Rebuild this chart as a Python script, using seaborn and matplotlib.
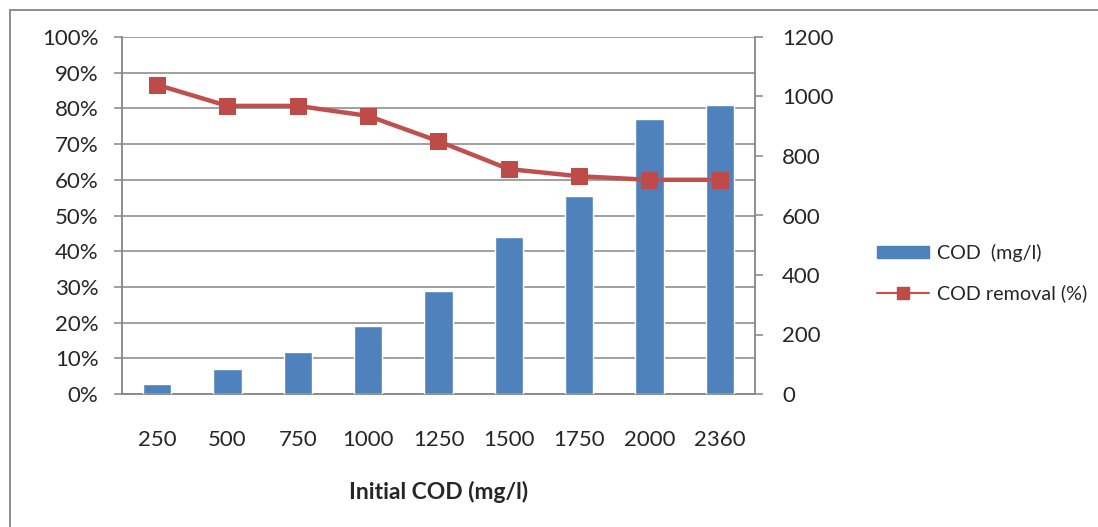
import matplotlib
matplotlib.use("Agg")
import matplotlib.pyplot as plt
import matplotlib.patches as mpatches
from matplotlib.lines import Line2D
from matplotlib.ticker import PercentFormatter, MultipleLocator
import numpy as np
import pandas as pd
import seaborn as sns

# data
initial_cod = ["250", "500", "750", "1000", "1250", "1500", "1750", "2000", "2360"]
cod_mgl = [33, 84, 142, 229, 345, 528, 666, 926, 972]
cod_removal = [86.6, 80.7, 80.7, 77.9, 70.8, 63.0, 61.0, 60.0, 60.0]

bar_color = "#4F81BD"
line_color = "#C0504D"
grid_color = "#868686"

sns.set_style("white")
plt.rcParams["font.family"] = ["Lato", "DejaVu Sans"]
plt.rcParams["font.size"] = 16

df = pd.DataFrame({"cod": initial_cod, "mgl": cod_mgl, "removal": cod_removal})

W, H = 1098, 527
fig = plt.figure(figsize=(W / 100, H / 100), dpi=100)
ax = fig.add_axes([122 / W, 1 - 394 / H, (755 - 122) / W, (394 - 37) / H])

# outer chart frame (cut at right and bottom like the screenshot)
frame = mpatches.Rectangle((10 / W, -0.05), 1.2, 1 - 10 / H + 0.05,
                           transform=fig.transFigure, fill=False,
                           edgecolor=grid_color, linewidth=1.3, clip_on=False)
fig.patches.append(frame)

n = len(initial_cod)

# left axis: percent with gridlines
ax.set_xlim(-0.5, n - 0.5)
ax.set_ylim(0, 100)
ax.yaxis.set_major_locator(MultipleLocator(10))
ax.yaxis.set_major_formatter(PercentFormatter(decimals=0))
ax.grid(axis="y", color=grid_color, linewidth=1.1)
ax.set_axisbelow(True)
ax.set_xticks(np.arange(n))
ax.set_xticklabels(initial_cod)
ax.tick_params(axis="x", length=0, pad=26)
ax.tick_params(axis="y", length=6, width=1.1, color=grid_color, direction="out", pad=11)
# category separators on the x axis
ax.set_xticks(np.arange(-0.5, n, 1), minor=True)
ax.tick_params(axis="x", which="minor", length=6, color=grid_color, width=1.1)
for side in ["top", "right"]:
    ax.spines[side].set_visible(False)
for side in ["left", "bottom"]:
    ax.spines[side].set_color(grid_color)
    ax.spines[side].set_linewidth(1.3)
ax.set_xlabel("Initial COD (mg/l)", fontweight="bold", fontsize=16.5, labelpad=22)

# right axis: bars
axb = ax.twinx()
sns.barplot(data=df, x="cod", y="mgl", color=bar_color, saturation=1,
            width=0.4, ax=axb, order=initial_cod)
axb.set_ylim(0, 1200)
axb.set_xlim(-0.5, n - 0.5)
axb.yaxis.set_major_locator(MultipleLocator(200))
axb.set_ylabel("")
axb.set_xlabel("")
axb.tick_params(axis="y", length=6, width=1.1, color=grid_color, direction="out", pad=13.5)
for side in ["top", "left", "bottom"]:
    axb.spines[side].set_visible(False)
axb.spines["right"].set_color(grid_color)
axb.spines["right"].set_linewidth(1.3)

# line on its own overlay axis (percent scale)
axl = ax.twinx()
axl.set_ylim(0, 100)
sns.lineplot(data=df, x="cod", y="removal", color=line_color, linewidth=3.2,
             marker="s", markersize=11, markeredgecolor="#BE4B48",
             markerfacecolor="#BE4B48", ax=axl, sort=False)
axl.set_xlim(-0.5, n - 0.5)
axl.axis("off")

handles = [mpatches.Patch(color=bar_color),
           Line2D([0], [0], color=line_color, linewidth=1.5, marker="s",
                  markersize=9, markerfacecolor="#BE4B48", markeredgecolor="#BE4B48")]
fig.legend(handles, ["COD  (mg/l)", "COD removal (%)"], loc="upper left",
           bbox_to_anchor=(859 / W, 1 - 226 / H), frameon=False,
           handlelength=2.65, handleheight=0.55, labelspacing=1.15,
           handletextpad=0.4, fontsize=14.2)

fig.savefig("out.png", dpi=100)
